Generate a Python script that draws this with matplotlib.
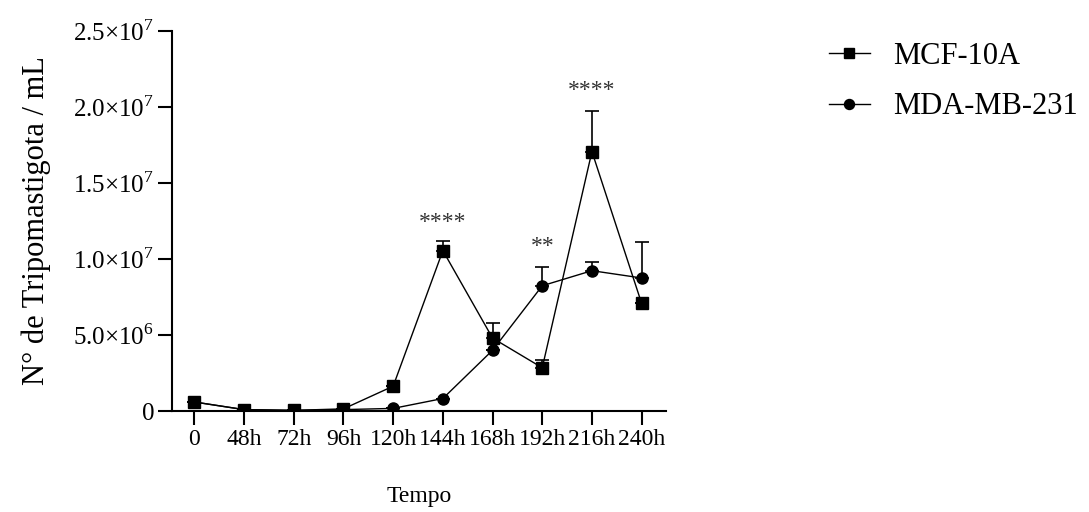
import matplotlib.pyplot as plt
import numpy as np

plt.rcParams['font.family'] = ['Liberation Serif', 'DejaVu Serif']
plt.rcParams['mathtext.fontset'] = 'custom'
plt.rcParams['mathtext.rm'] = 'Liberation Serif'

# data
time_labels = ["0", "48h", "72h", "96h", "120h", "144h", "168h", "192h", "216h", "240h"]
mcf10a = [0.60e6, 0.10e6, 0.05e6, 0.15e6, 1.64e6, 1.055e7, 0.48e7, 0.285e7, 1.706e7, 0.708e7]
mcf10a_err = [0, 0, 0, 0, 0, 0.065e7, 0.10e7, 0.05e7, 0.264e7, 0]
mda231 = [0.60e6, 0.10e6, 0.05e6, 0.10e6, 0.18e6, 0.83e6, 0.40e7, 0.824e7, 0.923e7, 0.875e7]
mda231_err = [0, 0, 0, 0, 0, 0, 0, 0.126e7, 0.057e7, 0.235e7]
sig_labels = ["****", "**", "****"]
sig_pos = [5, 7, 8]
sig_y = [1.24e7, 1.08e7, 2.11e7]
ytick_vals = [0, 5e6, 1e7, 1.5e7, 2e7, 2.5e7]
ytick_labels = ["0", r"$5.0{\times}10^{6}$", r"$1.0{\times}10^{7}$", r"$1.5{\times}10^{7}$",
                r"$2.0{\times}10^{7}$", r"$2.5{\times}10^{7}$"]

x = np.arange(len(time_labels))

fig = plt.figure(figsize=(10.89, 5.12), dpi=100)
ax = fig.add_axes([0.158, 0.197, 0.454, 0.743])

# MCF-10A (squares)
ax.errorbar(x, mcf10a, yerr=[np.zeros(len(x)), mcf10a_err], color='black', marker='s',
            markersize=8, linewidth=1.0, elinewidth=1.2, capsize=5, capthick=1.2, label='MCF-10A')
# MDA-MB-231 (circles)
ax.errorbar(x, mda231, yerr=[np.zeros(len(x)), mda231_err], color='black', marker='o',
            markersize=8, linewidth=1.0, elinewidth=1.2, capsize=5, capthick=1.2, label='MDA-MB-231')

for lab, p, yv in zip(sig_labels, sig_pos, sig_y):
    ax.text(x[p], yv, lab, ha='center', va='center', fontsize=17, color='#333333')

ax.set_xlim(-0.45, 9.5)
ax.set_ylim(0, 2.5e7)
ax.set_xticks(x)
ax.set_xticklabels(time_labels, fontsize=17)
ax.set_yticks(ytick_vals)
ax.set_yticklabels(ytick_labels, fontsize=18)
ax.tick_params(direction='out', length=10, width=1.5, pad=3)

for s in ['top', 'right']:
    ax.spines[s].set_visible(False)
for s in ['left', 'bottom']:
    ax.spines[s].set_linewidth(1.5)

ax.set_xlabel("Tempo", fontsize=17, labelpad=26)
ax.set_ylabel("N° de Tripomastigota / mL", fontsize=22, labelpad=16)

handles, labels = ax.get_legend_handles_labels()
handles = [h[0] for h in handles]
fig.legend(handles, labels, loc='upper left', bbox_to_anchor=(0.761, 0.918), frameon=False,
           fontsize=22, labelspacing=0.7, handlelength=1.35, handletextpad=0.75,
           borderpad=0, borderaxespad=0, markerscale=0.9)

plt.savefig("out.png", dpi=100)
